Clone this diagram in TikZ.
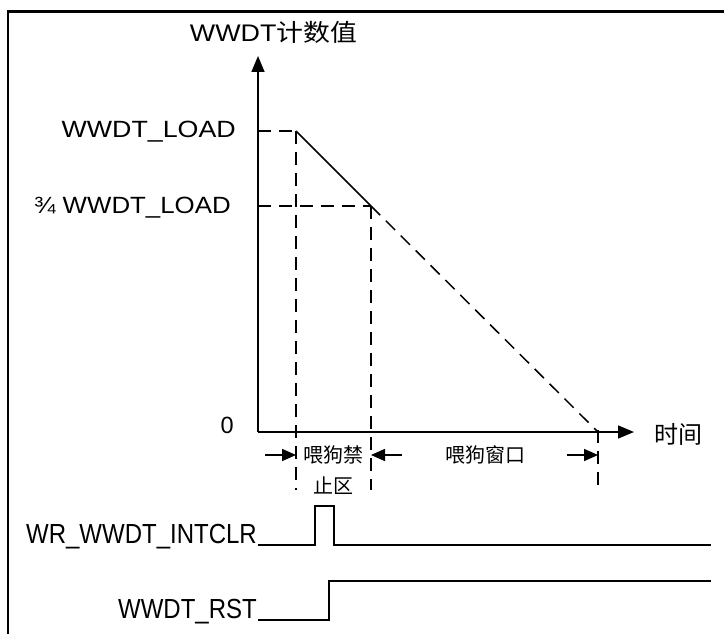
\documentclass[tikz,border=0pt]{standalone}
\usepackage{fontspec}
\setmainfont{Liberation Sans}
\newfontfamily\cjk{Noto Sans CJK SC}
\usetikzlibrary{arrows.meta}
\begin{document}
\begin{tikzpicture}[x=1pt,y=-1pt,
  lbl/.style={inner sep=0pt, font=\fontsize{23.5}{26}\selectfont},
  sig lbl/.style={inner sep=0pt, font=\fontsize{24}{28}\selectfont},
  zh/.style={inner sep=0pt, font=\fontsize{20}{24}\selectfont\cjk, align=center},
  axis/.style={line width=1.6pt, -{Triangle[length=16pt,width=13pt]}},
  dsh/.style={line width=1.5pt, dash pattern=on 13pt off 8pt},
  sig/.style={line width=1.6pt},
  tip/.style={line width=1.5pt, -{Triangle[length=14pt,width=12pt]}}]
\useasboundingbox (0,0) rectangle (724,634);
% frame
\draw[line width=2.5pt] (724,11.5) -- (8,11.5) -- (8,634);

% coordinates
\coordinate (O) at (258,432);
\coordinate (ytop) at (258,56);
\coordinate (xend) at (634,432);
\coordinate (L) at (296,131);
\coordinate (Q) at (371,206);
\coordinate (Z) at (598,432);
\coordinate (yL) at (258,131);
\coordinate (yQ) at (258,206);
\coordinate (Lb) at (296,490);
\coordinate (Qb) at (371,490);
\coordinate (Zt) at (598,430);
\coordinate (Zb) at (598,488);
\coordinate (a1s) at (265,455);
\coordinate (a1e) at (296,455);
\coordinate (a2s) at (402,455);
\coordinate (a2e) at (371,455);
\coordinate (a3s) at (567,455);
\coordinate (a3e) at (598,455);

% axes
\draw[axis] (O) -- (ytop);
\draw[axis] (O) -- (xend);

% curve
\draw[line width=1.6pt] (L) -- (Q);
\draw[dsh] (Q) -- (Z);
\draw[dsh] (yL) -- (L);
\draw[dsh] (yQ) -- (Q);
\draw[dsh] (L) -- (Lb);
\draw[dsh] (Q) -- (Qb);
\draw[dsh] (Zt) -- (Zb);

% interval arrows
\draw[tip] (a1s) -- (a1e);
\draw[tip] (a2s) -- (a2e);
\draw[tip] (a3s) -- (a3e);

% labels
\node[lbl, font=\fontsize{24}{28}\selectfont, anchor=base, xscale=1.12] (ylab) at (273.5,42) {WWDT{\cjk 计数值}};
\node[zh, font=\fontsize{24}{28}\selectfont\cjk, anchor=west] (xlab) at (654,434) {时间};
\node[lbl, anchor=base east, xscale=1.14] (load) at (236,138) {WWDT\_LOAD};
\node[lbl, anchor=base east, xscale=1.1] (q) at (231,213) {¾ WWDT\_LOAD};
\node[lbl, anchor=base east] (zero) at (234,433) {0};
\node[zh] (ban1) at (333,455) {喂狗禁};
\node[zh] (ban2) at (333,486) {止区};
\node[zh] (win) at (485,455) {喂狗窗口};

% signals
\node[sig lbl, anchor=base east, yscale=1.15] (intclr) at (257,543) {WR\_WWDT\_INTCLR};
\node[sig lbl, anchor=base east, yscale=1.15] (rst) at (257,618) {WWDT\_RST};
\draw[sig] (intclr.base east) ++(1,2) coordinate (i0) -- (315,545) -- (315,506) -- (334,506) -- (334,545) -- (711,545);
\draw[sig] (rst.base east) ++(1,2) coordinate (r0) -- (329,620) -- (329,581) -- (711,581);
\end{tikzpicture}
\end{document}
